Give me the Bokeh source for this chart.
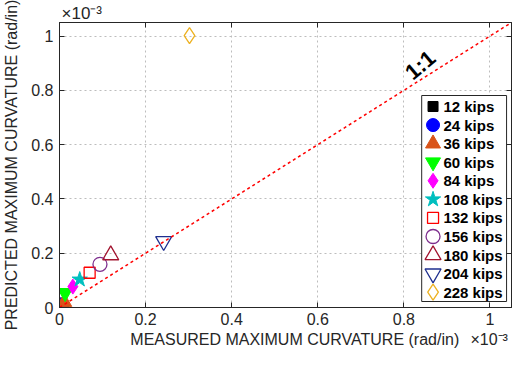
from bokeh.plotting import figure
from bokeh.models import LinearAxis, FixedTicker, Range1d, Label, Title
from bokeh.core.properties import value
from bokeh.embed import file_html
from bokeh.resources import INLINE

# ---- data (curvature values in units of 1e-3 rad/in) ----
load_labels = ["12 kips", "24 kips", "36 kips", "60 kips", "84 kips", "108 kips",
               "132 kips", "156 kips", "180 kips", "204 kips", "228 kips"]
measured = [0.009, 0.004, 0.011, 0.013, 0.031, 0.047, 0.070, 0.094, 0.119, 0.242, 0.302]
predicted = [0.003, 0.012, 0.020, 0.054, 0.077, 0.103, 0.128, 0.159, 0.193, 0.244, 1.002]

markers = ["square", "circle", "triangle", "inverted_triangle", "diamond", "star",
           "square", "circle", "triangle", "inverted_triangle", "diamond"]
colors = ["#000000", "#0000FF", "#D95319", "#00FF00", "#FF00FF", "#00BFBF",
          "#FF0000", "#7E2F8E", "#A2142F", "#1F2F8F", "#EDB120"]
filled = [True, True, True, True, True, True, False, False, False, False, False]
sizes = [10, 13, 15, 15, 15, 16, 11, 14, 16, 16, 16]

ticks = [0, 0.2, 0.4, 0.6, 0.8, 1.0]
tick_labels = ["0", "0.2", "0.4", "0.6", "0.8", "1"]
one_to_one = [0, 1.05]
exponent = "\u00d710\u207b\u00b3"

FONT = "Liberation Sans"
DARK = "#262626"
XMAX = YMAX = 1.05
W, H = 513, 352
BL, BR, BT, BB = 53, 2, 22, 45
FW, FH = W - BL - BR, H - BT - BB          # frame size in px
KX, KY = XMAX / FW, YMAX / FH              # data units per px

p = figure(width=W, height=H, output_backend="svg", toolbar_location=None,
           x_range=Range1d(0, XMAX), y_range=Range1d(0, YMAX),
           min_border_left=BL, min_border_right=BR, min_border_top=BT,
           min_border_bottom=BB, background_fill_color="white",
           border_fill_color="white", outline_line_color=DARK)

overrides = dict(zip(ticks, tick_labels))
for ax in [p.xaxis[0], p.yaxis[0]]:
    ax.ticker = FixedTicker(ticks=ticks)
    ax.major_label_overrides = overrides
    ax.major_tick_in = 5
    ax.major_tick_out = 0
    ax.minor_tick_line_color = None
    ax.axis_line_color = DARK
    ax.major_tick_line_color = DARK
    ax.major_label_text_font = FONT
    ax.major_label_text_font_size = "16px"
    ax.major_label_text_color = DARK
    ax.axis_label_text_font = FONT
    ax.axis_label_text_font_size = "16px"
    ax.axis_label_text_font_style = "normal"
    ax.axis_label_text_color = DARK
p.xaxis[0].major_label_standoff = 5
p.xaxis[0].axis_label_standoff = 3
p.yaxis[0].major_label_standoff = 6
p.yaxis[0].axis_label_standoff = 8

# x label: exponent placed at the right end, left padding keeps the title centred
gap = "\u2002\u2009"
pad = "\u2003" * 3 + "\u2002" + gap
p.xaxis[0].axis_label = pad + "MEASURED MAXIMUM CURVATURE (rad/in)" + gap + exponent
p.yaxis[0].axis_label = "PREDICTED MAXIMUM CURVATURE (rad/in)"

# box ticks on top and right (no labels)
for side in ["above", "right"]:
    ax = LinearAxis(ticker=FixedTicker(ticks=ticks), major_tick_in=5,
                    major_tick_out=0, minor_tick_line_color=None,
                    major_label_text_font_size="1px", major_label_text_color=None,
                    major_label_standoff=0, axis_line_color=DARK,
                    major_tick_line_color=DARK)
    p.add_layout(ax, side)

p.add_layout(Title(text=exponent, align="left", offset=2, standoff=0,
                   text_font=FONT, text_font_size="17px", text_font_style="normal",
                   text_color=DARK), "above")

for g in [p.xgrid[0], p.ygrid[0]]:
    g.ticker = FixedTicker(ticks=ticks)
    g.grid_line_color = "#bdbdbd"
    g.grid_line_dash = "2 3"
    g.grid_line_width = 1

def style(i):
    kw = dict(marker=markers[i], size=sizes[i], line_color=colors[i])
    if filled[i]:
        kw.update(fill_color=colors[i], line_width=1)
    else:
        kw.update(fill_color=None, line_width=1.3)
    return kw

for i in range(len(load_labels)):
    p.scatter([measured[i]], [predicted[i]], **style(i))

p.line(one_to_one, one_to_one, line_color="#FF0000", line_dash="3 3", line_width=1.5)

p.add_layout(Label(x=0.838, y=0.893, text="1:1", angle=40, angle_units="deg",
                   text_align="center", text_baseline="middle",
                   text_font=FONT, text_font_style="bold", text_font_size="22px",
                   text_color="#000000"))

# ---- legend box (layout in pixels, converted to data units) ----
n = len(load_labels)
leg_w, leg_h, leg_r, leg_b = 86, 206, 5, 6
row0, pitch, mark_dx, text_dx = 11, 18.57, 11.5, 22
right = XMAX - leg_r * KX
left = right - leg_w * KX
bottom = leg_b * KY
top = bottom + leg_h * KY
p.quad(left=[left], right=[right], bottom=[bottom], top=[top],
       fill_color="white", line_color=DARK, line_width=1)
row_y = [top - (row0 + pitch * i) * KY for i in range(n)]
for i in range(n):
    p.scatter([left + mark_dx * KX], [row_y[i]], **style(i))
p.text(x=[left + text_dx * KX] * n, y=row_y, text=load_labels,
       text_font=value(FONT), text_font_style="bold", text_font_size="15px",
       text_color="#000000", text_align="left", text_baseline="middle")

open("out.html", "w").write(file_html(p, INLINE))
